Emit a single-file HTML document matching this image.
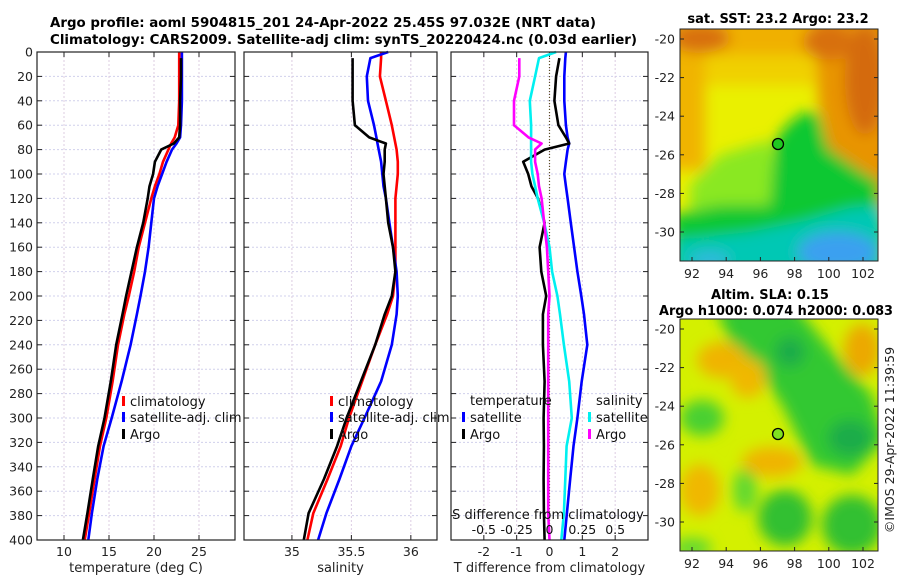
<!DOCTYPE html>
<html><head><meta charset="utf-8"><style>
html,body{margin:0;padding:0;background:#fff;}
svg{display:block;font-family:"DejaVu Sans","Liberation Sans",sans-serif;}
</style></head><body>
<svg id="fig" width="900" height="580" viewBox="0 0 900 580" xmlns="http://www.w3.org/2000/svg">
<defs>
<filter id="blur1" filterUnits="userSpaceOnUse" x="600" y="0" width="300" height="580"><feGaussianBlur stdDeviation="7"/></filter>
<clipPath id="clipMap1"><rect x="680" y="29" width="198" height="232"/></clipPath>
<clipPath id="clipMap2"><rect x="680" y="319" width="198" height="232"/></clipPath>
</defs>
<text x="50" y="27" font-size="13" font-weight="bold" textLength="546" lengthAdjust="spacingAndGlyphs">Argo profile: aoml 5904815_201 24-Apr-2022 25.45S 97.032E (NRT data)</text>
<text x="50" y="44" font-size="13" font-weight="bold" textLength="587" lengthAdjust="spacingAndGlyphs">Climatology: CARS2009. Satellite-adj clim: synTS_20220424.nc (0.03d earlier)</text>

<!-- Map 1 -->
<g clip-path="url(#clipMap1)">
<rect x="680" y="29" width="198" height="232" fill="#eaf000"/>
<g filter="url(#blur1)">
<rect x="660" y="10" width="240" height="55" fill="#f0b000"/>
<rect x="660" y="55" width="240" height="30" fill="#f0d000"/>
<polygon points="660,20 705,20 705,170 660,170" fill="#f0b400"/>
<polygon points="815,10 895,10 895,215 850,215 830,160 818,100" fill="#e89400"/>
<ellipse cx="865" cy="80" rx="20" ry="55" fill="#d46a10"/>
<ellipse cx="700" cy="38" rx="30" ry="15" fill="#d87010"/>
<ellipse cx="828" cy="42" rx="25" ry="18" fill="#d87010"/>
<polygon points="690,185 720,155 770,140 778,200 760,232 690,235" fill="#8ae820"/>
<polygon points="775,140 790,122 805,112 818,112 828,148 860,170 880,182 880,212 830,228 780,232 690,252 672,250 672,215 720,205 770,205" fill="#10c830"/>
<polygon points="672,240 750,232 800,222 850,208 885,205 885,275 672,275" fill="#00c8b4"/>
<ellipse cx="838" cy="252" rx="40" ry="20" fill="#3aa0f0"/>
<ellipse cx="710" cy="260" rx="20" ry="8" fill="#30b8e0"/>
</g>
<circle cx="778" cy="144" r="5.5" fill="#20c820" stroke="#000" stroke-width="1.3"/>
</g>
<rect x="680" y="29" width="198" height="232" fill="none" stroke="#222" stroke-width="1"/>
<text x="778" y="23" font-size="13" font-weight="bold" text-anchor="middle">sat. SST: 23.2 Argo: 23.2</text>

<!-- Map 2 -->
<g clip-path="url(#clipMap2)">
<rect x="680" y="319" width="198" height="232" fill="#d4f000"/>
<g filter="url(#blur1)">
<polygon points="715,305 795,305 835,355 872,395 885,440 852,475 812,465 782,405 760,372 730,342" fill="#30c830"/>
<ellipse cx="790" cy="352" rx="15" ry="15" fill="#1cac48"/>
<ellipse cx="850" cy="438" rx="22" ry="18" fill="#1cac48"/>
<ellipse cx="785" cy="518" rx="27" ry="28" fill="#30c030"/>
<ellipse cx="852" cy="525" rx="30" ry="30" fill="#30c030"/>
<ellipse cx="702" cy="418" rx="22" ry="18" fill="#48d030"/>
<ellipse cx="745" cy="490" rx="12" ry="22" fill="#60d830"/>
<ellipse cx="692" cy="548" rx="20" ry="10" fill="#60d830"/>
<ellipse cx="722" cy="360" rx="25" ry="18" fill="#f0b400"/>
<ellipse cx="748" cy="378" rx="18" ry="20" fill="#f0b800"/>
<ellipse cx="862" cy="350" rx="18" ry="26" fill="#eca800"/>
<ellipse cx="772" cy="462" rx="30" ry="15" fill="#f0b400"/>
<ellipse cx="700" cy="490" rx="20" ry="26" fill="#f0b800"/>
</g>
<circle cx="778" cy="434" r="5.5" fill="#80e020" stroke="#000" stroke-width="1.3"/>
</g>
<rect x="680" y="319" width="198" height="232" fill="none" stroke="#222" stroke-width="1"/>
<text x="770" y="299" font-size="13" font-weight="bold" text-anchor="middle">Altim. SLA: 0.15</text>
<text x="659" y="315" font-size="13" font-weight="bold" textLength="234" lengthAdjust="spacingAndGlyphs">Argo h1000: 0.074 h2000: 0.083</text>
<text transform="translate(894,440) rotate(-90)" font-size="12.5" text-anchor="middle" fill="#222">©IMOS 29-Apr-2022 11:39:59</text>
<g id="plots"></g>
</svg>
<script>
// ---- data ----
const depths = [0,5,20,40,60,70,75,80,90,100,110,120,140,160,180,200,215,240,270,300,323,350,378,400];
const tempClim = [22.8,22.8,22.8,22.8,22.7,22.3,21.9,21.6,21.0,20.6,20.1,19.7,19.0,18.3,17.8,17.2,16.7,16.0,15.4,14.7,14.0,13.4,12.8,12.3];
const tempSat = [23.1,23.1,23.1,23.1,23.0,22.9,22.5,22.0,21.4,20.9,20.4,20.0,19.7,19.4,19.0,18.5,18.1,17.4,16.4,15.3,14.4,13.7,13.1,12.7];
const tempArgo = [null,23.0,23.0,22.9,22.9,22.8,22.2,20.8,20.1,19.9,19.5,19.3,18.8,18.1,17.5,16.9,16.5,15.8,15.2,14.5,13.8,13.2,12.6,12.1];
const salClim = [35.75,35.75,35.74,35.79,35.84,35.86,35.87,35.88,35.89,35.89,35.88,35.87,35.87,35.87,35.87,35.85,35.80,35.70,35.59,35.48,35.41,35.30,35.18,35.13];
const salSat = [35.81,35.66,35.63,35.64,35.69,35.71,35.72,35.73,35.75,35.76,35.77,35.79,35.82,35.85,35.88,35.89,35.88,35.84,35.75,35.61,35.50,35.40,35.29,35.22];
const salArgo = [null,35.51,35.51,35.51,35.53,35.65,35.79,35.78,35.78,35.77,35.78,35.79,35.81,35.85,35.87,35.84,35.78,35.70,35.58,35.46,35.38,35.27,35.14,35.10];
const tDiffSat = [0.5,0.48,0.45,0.45,0.5,0.55,0.6,0.55,0.5,0.45,0.5,0.55,0.65,0.75,0.85,0.97,1.05,1.15,0.98,0.85,0.73,0.63,0.53,0.45];
const tDiffArgo = [null,0.3,0.2,0.15,0.27,0.5,0.6,-0.15,-0.8,-0.65,-0.55,-0.35,-0.15,-0.3,-0.25,-0.1,-0.2,-0.2,-0.15,-0.18,-0.17,-0.18,-0.17,-0.15];
const sDiffSat = [0.05,-0.08,-0.11,-0.15,-0.14,-0.14,-0.14,-0.14,-0.14,-0.13,-0.11,-0.09,-0.04,0.0,0.02,0.06,0.08,0.11,0.15,0.17,0.13,0.12,0.11,0.09];
const sDiffArgo = [null,-0.23,-0.23,-0.27,-0.27,-0.16,-0.06,-0.11,-0.11,-0.09,-0.08,-0.06,-0.04,-0.02,-0.01,0.0,-0.01,-0.01,-0.01,-0.01,-0.01,-0.01,-0.01,0.0];
const depthTicks = [0,20,40,60,80,100,120,140,160,180,200,220,240,260,280,300,320,340,360,380,400];
const tempTicks = [10,15,20,25];
const salTicks = [35,35.5,36];
const salTickLabels = ["35","35.5","36"];
const tdTicks = [-2,-1,0,1,2];
const sdTicks = [-0.5,-0.25,0,0.25,0.5];
const sdTickLabels = ["-0.5","-0.25","0","0.25","0.5"];
const latTicks = [-20,-22,-24,-26,-28,-30];
const lonTicks = [92,94,96,98,100,102];

// ---- axes ----
const NS="http://www.w3.org/2000/svg";
const root=document.getElementById('plots');
const Y0=52, Y1=540;
function yD(d){return Y0+(d/400)*(Y1-Y0);}
function mk(tag,attrs,parent){const e=document.createElementNS(NS,tag);for(const k in attrs)e.setAttribute(k,attrs[k]);(parent||root).appendChild(e);return e;}
const panels=[
 {name:'temperature',x0:37,x1:235,v0:7,v1:29,ticks:tempTicks,labels:tempTicks.map(String),title:'temperature (deg C)'},
 {name:'salinity',x0:244,x1:437,v0:34.597,v1:36.22,ticks:salTicks,labels:salTickLabels,title:'salinity'},
 {name:'difference',x0:451,x1:648,v0:-3,v1:3,ticks:tdTicks,labels:tdTicks.map(String),title:'T difference from climatology'}
];
function xs(p,v){return p.x0+(v-p.v0)/(p.v1-p.v0)*(p.x1-p.x0);}
panels.forEach((p,pi)=>{
  const g=mk('g',{});
  
  
  mk('rect',{x:p.x0,y:Y0,width:p.x1-p.x0,height:Y1-Y0,fill:'#fff'},g);
  depthTicks.forEach(d=>{
    const gl=mk('line',{x1:p.x0,x2:p.x1,y1:yD(d),y2:yD(d),stroke:'#d0d0ec','stroke-width':1,'stroke-dasharray':'2,2'},g);
    
    
    mk('line',{x1:p.x0,x2:p.x0+5,y1:yD(d),y2:yD(d),stroke:'#222'},g);
    mk('line',{x1:p.x1-5,x2:p.x1,y1:yD(d),y2:yD(d),stroke:'#222'},g);
    if(pi===0){
      const t=mk('text',{x:p.x0-4,y:yD(d)+4.5,'font-size':12.5,'text-anchor':'end',fill:'#222'},g);
      t.textContent=d;
      
      
    }
  });
  p.ticks.forEach((v,i)=>{
    const x=xs(p,v);
    const gl=mk('line',{x1:x,x2:x,y1:Y0,y2:Y1,stroke:'#dccce2','stroke-width':1,'stroke-dasharray':'2,2'},g);
    
    
    mk('line',{x1:x,x2:x,y1:Y1,y2:Y1-5,stroke:'#222'},g);
    mk('line',{x1:x,x2:x,y1:Y0,y2:Y0+5,stroke:'#222'},g);
    const t=mk('text',{x:x,y:556,'font-size':12.5,'text-anchor':'middle',fill:'#222'},g);
    t.textContent=p.labels[i];
    
    
  });
  const at=mk('text',{x:(p.x0+p.x1)/2,y:572,'font-size':13,'text-anchor':'middle',fill:'#222'},g);
  at.textContent=p.title;
  
  
  p.g=g;
});
const zl=mk('line',{x1:xs(panels[2],0),x2:xs(panels[2],0),y1:Y0,y2:Y1,stroke:'#5a5020','stroke-width':1.2,'stroke-dasharray':'1,2'},panels[2].g);



function series(p,vals,color,name,xf){
  let d='';let pen=false;
  vals.forEach((v,i)=>{
    if(v===null){pen=false;return;}
    const x=xf?xf(v):xs(p,v);
    d+=(pen?'L':'M')+x.toFixed(1)+','+yD(depths[i]).toFixed(1);pen=true;
  });
  const e=mk('path',{d:d,fill:'none',stroke:color,'stroke-width':2.6,'stroke-linejoin':'round'},p.g);
  
  
}
const P=panels;
series(P[0],tempClim,'#ff0000','temp-climatology-line');
series(P[0],tempSat,'#0000ff','temp-satellite-line');
series(P[0],tempArgo,'#000000','temp-argo-line');
series(P[1],salClim,'#ff0000','sal-climatology-line');
series(P[1],salSat,'#0000ff','sal-satellite-line');
series(P[1],salArgo,'#000000','sal-argo-line');
function sx(v){return xs(P[2],v*4);}
series(P[2],tDiffSat,'#0000ff','tdiff-satellite-line');
series(P[2],tDiffArgo,'#000000','tdiff-argo-line');
series(P[2],sDiffSat,'#00f0f0','sdiff-satellite-line',sx);
series(P[2],sDiffArgo,'#ff00ff','sdiff-argo-line',sx);

P.forEach(p=>{mk('rect',{x:p.x0,y:Y0,width:p.x1-p.x0,height:Y1-Y0,fill:'none',stroke:'#222','stroke-width':1.2},p.g);});

function legendItem(g,x,y,color,label,name){
  const gg=mk('g',{},g);
  
  
  if(color) mk('rect',{x:x-8,y:y-10,width:3,height:10,fill:color},gg);
  const t=mk('text',{x:x,y:y,'font-size':13,fill:'#111'},gg);
  t.textContent=label;
}
[[0,130],[1,338]].forEach(([pi,x])=>{
  legendItem(P[pi].g,x,406,'#ff0000','climatology','legend-climatology');
  legendItem(P[pi].g,x,422,'#0000ff','satellite-adj. clim','legend-satellite-adj');
  legendItem(P[pi].g,x,439,'#000000','Argo','legend-argo');
});
legendItem(P[2].g,470,405,null,'temperature','legend-temperature-header');
legendItem(P[2].g,470,422,'#0000ff','satellite','legend-t-satellite');
legendItem(P[2].g,470,439,'#000000','Argo','legend-t-argo');
legendItem(P[2].g,596,405,null,'salinity','legend-salinity-header');
legendItem(P[2].g,596,422,'#00f0f0','satellite','legend-s-satellite');
legendItem(P[2].g,596,439,'#ff00ff','Argo','legend-s-argo');
const st=mk('text',{x:548,y:519,'font-size':13,'text-anchor':'middle',fill:'#111'},P[2].g);
st.textContent='S difference from climatology';


sdTicks.forEach((v,i)=>{
  const t=mk('text',{x:sx(v),y:534,'font-size':12.5,'text-anchor':'middle',fill:'#111'},P[2].g);
  t.textContent=sdTickLabels[i];
  
  
});

function lonX(l){return 679+(l-91.24)*17.1;}
[[29,261,39],[319,551,329]].forEach(([top,bot,lat20],mi)=>{
  const g=mk('g',{});
  
  
  latTicks.forEach(lat=>{
    const y=lat20+(-20-lat)*19.3;
    mk('line',{x1:680,x2:684,y1:y,y2:y,stroke:'#222'},g);
    mk('line',{x1:874,x2:878,y1:y,y2:y,stroke:'#222'},g);
    const t=mk('text',{x:675,y:y+4.5,'font-size':12.5,'text-anchor':'end',fill:'#222'},g);
    t.textContent=lat;
    
    
  });
  lonTicks.forEach(lon=>{
    const x=lonX(lon);
    mk('line',{x1:x,x2:x,y1:bot,y2:bot-4,stroke:'#222'},g);
    const t=mk('text',{x:x,y:bot+17,'font-size':12.5,'text-anchor':'middle',fill:'#222'},g);
    t.textContent=lon;
    
    
  });
});
</script>
</body></html>
